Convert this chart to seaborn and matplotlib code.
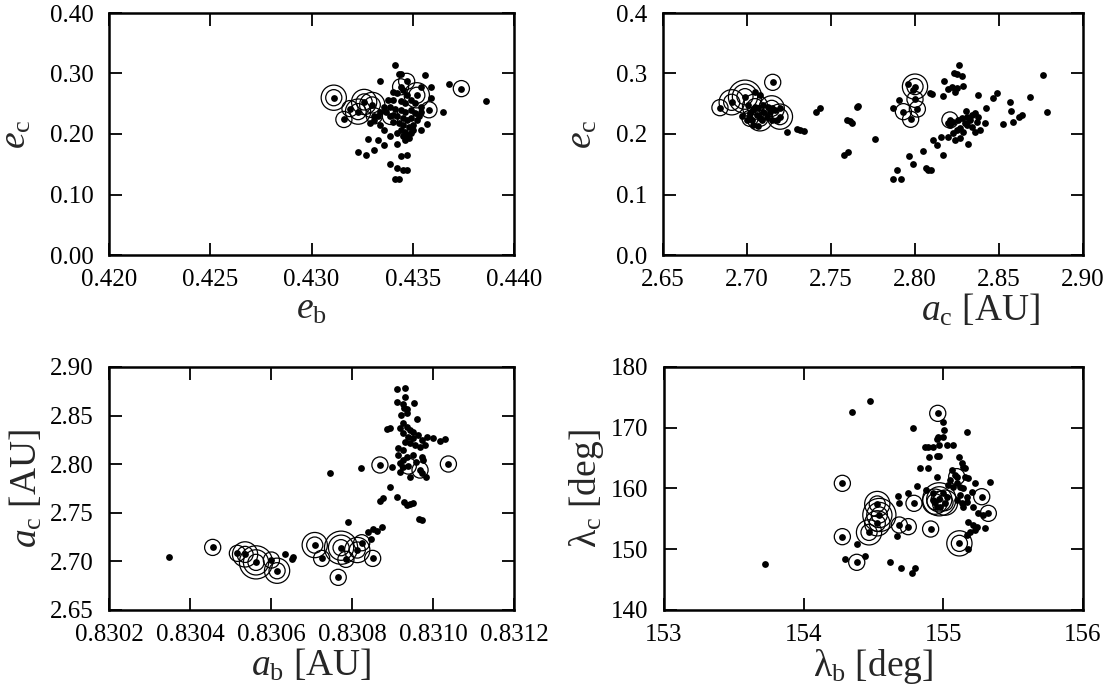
import matplotlib
matplotlib.use("Agg")
import matplotlib.pyplot as plt
import numpy as np
import pandas as pd
import seaborn as sns
from matplotlib.ticker import FormatStrFormatter, MultipleLocator

# ---------------- panel (e_b, e_c) ----------------
P1_RING_X = [0.4311, 0.4374, 0.4316, 0.4319, 0.4326, 0.4330, 0.4323, 0.4331, 0.4352,
             0.4358, 0.4347, 0.4344, 0.4339]
P1_RING_Y = [0.260, 0.275, 0.224, 0.242, 0.253, 0.248, 0.237, 0.230, 0.264,
             0.240, 0.287, 0.278, 0.229]
P1_RING_N = [2, 1, 1, 1, 2, 2, 2, 1, 2, 1, 1, 1, 1]
P1_DOT_X = [0.4341, 0.4356, 0.4334, 0.4368, 0.4386, 0.4365, 0.4328, 0.4333, 0.4336, 0.4342,
            0.4323, 0.4327, 0.4331, 0.4344, 0.4347, 0.4339, 0.4342, 0.4345, 0.4347, 0.4341,
            0.4343, 0.4354, 0.4357, 0.4339, 0.4346, 0.4348, 0.4343, 0.4344, 0.4359, 0.4359,
            0.4354, 0.4334, 0.4336, 0.4329,
            0.4340, 0.4342, 0.4345, 0.4347, 0.4340, 0.4344, 0.4346, 0.4349, 0.4351, 0.4354,
            0.4339, 0.4341, 0.4344, 0.4346, 0.4349, 0.4351, 0.4337, 0.4340, 0.4342, 0.4345,
            0.4347, 0.4349, 0.4352, 0.4340, 0.4343, 0.4345, 0.4348, 0.4350, 0.4344, 0.4346,
            0.4349, 0.4342, 0.4345, 0.4347, 0.4350, 0.4353, 0.4354, 0.4338, 0.4336, 0.4334,
            0.4331, 0.4333]
P1_DOT_Y = [0.314, 0.298, 0.288, 0.282, 0.255, 0.236, 0.192, 0.190, 0.182, 0.184,
            0.170, 0.165, 0.173, 0.164, 0.165, 0.150, 0.143, 0.141, 0.141, 0.126,
            0.126, 0.206, 0.217, 0.197, 0.190, 0.193, 0.300, 0.299, 0.278, 0.259,
            0.278, 0.215, 0.207, 0.218,
            0.270, 0.267, 0.273, 0.265, 0.256, 0.254, 0.251, 0.256, 0.251, 0.245,
            0.245, 0.242, 0.240, 0.237, 0.240, 0.234, 0.237, 0.231, 0.229, 0.226,
            0.223, 0.226, 0.223, 0.220, 0.218, 0.215, 0.212, 0.215, 0.207, 0.204,
            0.201, 0.201, 0.196, 0.198, 0.207, 0.229, 0.237, 0.256, 0.245, 0.237,
            0.223, 0.229]

# ---------------- panel (a_c, e_c) ----------------
P2_RING_X = [2.6839, 2.6909, 2.6988, 2.7153, 2.7147, 2.7077, 2.7196, 2.7018, 2.7048,
             2.8000, 2.8000, 2.8014, 2.7931, 2.7974, 2.8208]
P2_RING_Y = [0.2435, 0.2524, 0.2617, 0.2854, 0.2424, 0.2259, 0.2287, 0.2259, 0.2452,
             0.2783, 0.2573, 0.2413, 0.2369, 0.2243, 0.2232]
P2_RING_N = [1, 2, 3, 1, 2, 2, 2, 1, 2, 2, 1, 1, 1, 1, 1]
P2_DOT_X = [2.7048, 2.7077, 2.7008, 2.7038, 2.7067, 2.7097, 2.7127, 2.7018, 2.7058, 2.7087,
            2.7117, 2.7147, 2.7177, 2.7038, 2.7067, 2.6968, 2.6998, 2.7097, 2.7137, 2.7167,
            2.7196, 2.7028,
            2.7236, 2.7300, 2.7315, 2.7339, 2.7411, 2.7435, 2.7593, 2.7613, 2.7623, 2.7653,
            2.7663, 2.7762, 2.7579, 2.7599, 2.7867, 2.7907, 2.7867, 2.7917, 2.7891, 2.7990,
            2.7966, 2.7960, 2.7990, 2.8089, 2.8103, 2.8169, 2.8175, 2.8198, 2.8218, 2.8238,
            2.8248, 2.8232, 2.8252, 2.8278, 2.8264, 2.8288, 2.8109, 2.8129, 2.8153, 2.8169,
            2.8046, 2.8065, 2.8093, 2.8079,
            2.8198, 2.8228, 2.8258, 2.8278, 2.8307, 2.8337, 2.8357, 2.8377, 2.8367, 2.8417,
            2.8248, 2.8268, 2.8288, 2.8228, 2.8198, 2.8238, 2.8268, 2.8317, 2.8357, 2.8387,
            2.8327, 2.8303, 2.8377, 2.8420, 2.8462, 2.8490, 2.8565, 2.8569, 2.8581, 2.8522,
            2.8621, 2.8635, 2.8684, 2.8764, 2.8784, 2.8208, 2.8298, 2.8337, 2.8307]
P2_DOT_Y = [0.2700, 0.2645, 0.2480, 0.2397, 0.2424, 0.2369, 0.2452, 0.2342, 0.2314, 0.2232,
            0.2287, 0.2232, 0.2232, 0.2149, 0.2132, 0.2298, 0.2232, 0.2480, 0.2369, 0.2397,
            0.2424, 0.2232,
            0.2039, 0.2077, 0.2066, 0.2055, 0.2358, 0.2435, 0.2232, 0.2215, 0.2188, 0.2452,
            0.2469, 0.1918, 0.1653, 0.1697, 0.2435, 0.2562, 0.1256, 0.1256, 0.1405, 0.1499,
            0.1637, 0.2821, 0.2727, 0.2672, 0.2656, 0.2634, 0.2882, 0.2739, 0.2783, 0.2700,
            0.2755, 0.3014, 0.2987, 0.2959, 0.3135, 0.2799, 0.1901, 0.1818, 0.1956, 0.1653,
            0.1725, 0.1433, 0.1405, 0.1405,
            0.2177, 0.2204, 0.2232, 0.2259, 0.2287, 0.2314, 0.2342, 0.2287, 0.2204, 0.2177,
            0.2066, 0.2094, 0.2039, 0.2011, 0.1956, 0.1901, 0.1929, 0.1835, 0.2039, 0.2066,
            0.2232, 0.2380, 0.2645, 0.2424, 0.2590, 0.2672, 0.2535, 0.2386, 0.2193, 0.2165,
            0.2287, 0.2314, 0.2606, 0.2975, 0.2358, 0.2149, 0.2177, 0.2121, 0.2149]

# ---------------- panel (a_b, a_c) ----------------
P3_RING_X = [0.830456, 0.830517, 0.830536, 0.830563, 0.830601, 0.830615, 0.830708, 0.830725,
             0.830773, 0.830785, 0.830813, 0.830824, 0.830851, 0.830766, 0.830869, 0.831038,
             0.830939, 0.830968]
P3_RING_Y = [2.7144, 2.7083, 2.7072, 2.6990, 2.7014, 2.6904, 2.7168, 2.7031,
             2.7141, 2.7021, 2.7117, 2.7192, 2.7031, 2.6836, 2.7992, 2.8002,
             2.7981, 2.7940]
P3_RING_N = [1, 1, 2, 3, 1, 2, 2, 1, 3, 1, 2, 1, 1, 1, 1, 1, 1, 1]
P3_DOT_X = [0.830349, 0.830634, 0.830655, 0.830651, 0.830745, 0.830791, 0.830821, 0.830840,
            0.830851, 0.830861, 0.830873, 0.830848, 0.830869, 0.830877, 0.830894, 0.830910,
            0.830928, 0.830935, 0.830943, 0.830951, 0.830966, 0.830972, 0.830887, 0.830894,
            0.830898, 0.830918, 0.830926, 0.830943, 0.830959, 0.830972, 0.830982,
            0.830912, 0.830932, 0.830931, 0.830912, 0.830925, 0.830953, 0.830928, 0.830936,
            0.830922, 0.830935, 0.830961, 0.830926, 0.830918, 0.830935, 0.830943, 0.830951,
            0.830926, 0.830939, 0.830951, 0.830964, 0.830972, 0.830984, 0.830999, 0.831017,
            0.831029, 0.830931, 0.830943, 0.830955, 0.830968, 0.830980, 0.830914, 0.830926,
            0.830914, 0.830935, 0.830951, 0.830972, 0.830926, 0.830976, 0.830918]
P3_DOT_Y = [2.7041, 2.7072, 2.7041, 2.7024, 2.7906, 2.7408, 2.7957, 2.7306,
            2.7330, 2.7312, 2.7350, 2.7230, 2.7625, 2.7649, 2.7762, 2.7659,
            2.7614, 2.7580, 2.7590, 2.7604, 2.7436, 2.7426, 2.8359, 2.8369,
            2.7968, 2.7923, 2.7968, 2.7865, 2.8026, 2.7906, 2.7872,
            2.8770, 2.8787, 2.8688, 2.8636, 2.8619, 2.8633, 2.8575, 2.8564,
            2.8506, 2.8523, 2.8461, 2.8420, 2.8369, 2.8386, 2.8352, 2.8335,
            2.8317, 2.8283, 2.8266, 2.8300, 2.8249, 2.8283, 2.8273, 2.8242,
            2.8259, 2.8232, 2.8215, 2.8197, 2.8180, 2.8197, 2.8163, 2.8146,
            2.8094, 2.8077, 2.8094, 2.8077, 2.8043, 2.8043, 2.8009]

# ---------------- panel (lambda_b, lambda_c) ----------------
P4_RING_X = [154.960, 154.277, 155.275, 155.322, 154.790, 154.527, 154.542, 154.527, 154.468,
             154.685, 154.749, 154.909, 154.277, 154.380, 155.115, 154.971, 154.940, 155.012,
             155.096]
P4_RING_Y = [172.37, 160.85, 158.65, 155.91, 157.56, 157.45, 155.64, 154.27, 152.78,
             153.99, 153.72, 153.33, 152.07, 147.85, 150.97, 158.22, 157.83, 157.67,
             161.95]
P4_RING_N = [1, 1, 1, 1, 1, 2, 3, 2, 2, 1, 1, 1, 1, 1, 2, 3, 2, 2, 1]
P4_DOT_X = [154.348, 154.475, 154.785, 154.995, 155.005, 155.000, 154.964, 154.952, 155.167,
            154.869, 154.893, 154.928, 154.971, 155.024, 155.067, 154.897, 154.952, 154.971,
            154.833, 154.893, 154.952, 155.115, 155.131, 155.143, 155.155, 155.060, 155.084,
            155.048, 155.096, 155.036, 155.072, 155.119, 155.155, 155.179, 155.227, 155.334,
            155.143, 155.203, 155.119, 155.167, 155.096, 155.131, 155.143, 155.215, 155.167,
            154.814, 154.876, 154.749, 154.673, 154.685, 154.928, 154.952, 154.976, 155.000,
            155.024, 154.928, 155.251, 155.287, 155.179, 155.215, 155.239, 155.227, 155.298,
            155.167, 155.191, 155.179, 154.380, 154.296, 154.439, 154.618, 154.695, 154.797,
            154.778, 154.666, 153.723]
P4_DOT_Y = [172.54, 174.46, 170.01, 171.00, 169.63, 168.53, 168.42, 168.09, 169.36,
            166.78, 166.78, 166.78, 167.11, 167.16, 167.22, 165.24, 165.35, 165.35,
            163.32, 163.32, 161.95, 165.24, 164.14, 163.59, 163.32, 163.05, 162.22,
            161.40, 160.85, 160.58, 160.30, 160.30, 161.95, 161.67, 160.85, 161.02,
            160.03, 159.48, 158.93, 158.65, 158.11, 157.56, 157.01, 157.01, 157.83,
            160.41, 159.75, 159.31, 158.76, 157.56, 158.11, 157.01, 157.01, 159.20,
            158.65, 159.31, 155.91, 155.64, 154.54, 153.99, 153.72, 153.17, 153.44,
            152.35, 152.89, 150.04, 150.81, 148.34, 148.89, 147.95, 146.86, 146.86,
            146.03, 152.18, 147.50]

# ---------------- styling ----------------
sns.set_theme(style="ticks")
plt.rcParams["font.family"] = ["Liberation Serif", "DejaVu Serif"]
plt.rcParams["mathtext.fontset"] = "custom"
plt.rcParams["mathtext.rm"] = "Liberation Serif"
plt.rcParams["mathtext.it"] = "Liberation Serif:italic"

TICK_FS = 18
LABEL_FS = 27
RING_SIZES = {1: 135, 2: 330, 3: 570}
DOT_SIZE = 24


def draw_panel(ax, ring_x, ring_y, ring_n, dot_x, dot_y):
    rings = pd.DataFrame({"x": ring_x, "y": ring_y, "n": ring_n})
    dots = pd.DataFrame({"x": list(dot_x) + list(ring_x),
                         "y": list(dot_y) + list(ring_y)})
    for k in (3, 2, 1):
        sub = rings[rings["n"] >= k]
        if len(sub):
            sns.scatterplot(data=sub, x="x", y="y", ax=ax, s=RING_SIZES[k], marker="o",
                            facecolor="none", edgecolor="black", linewidth=0.9,
                            legend=False, zorder=2)
    sns.scatterplot(data=dots, x="x", y="y", ax=ax, s=DOT_SIZE, color="black",
                    linewidth=0, legend=False, zorder=3)


def style_axes(ax, xlim, ylim, xstep, ystep, xfmt, yfmt, xlabel, ylabel,
               ylabelpad, xlabel_x=0.5):
    ax.set_xlim(*xlim)
    ax.set_ylim(*ylim)
    ax.xaxis.set_major_locator(MultipleLocator(xstep))
    ax.yaxis.set_major_locator(MultipleLocator(ystep))
    ax.xaxis.set_major_formatter(FormatStrFormatter(xfmt))
    ax.yaxis.set_major_formatter(FormatStrFormatter(yfmt))
    ax.tick_params(direction="in", length=9, width=1.3, top=True, right=True,
                   labelsize=TICK_FS, colors="black")
    ax.tick_params(axis="x", pad=10)
    ax.tick_params(axis="y", pad=11)
    for sp in ax.spines.values():
        sp.set_visible(True)
        sp.set_linewidth(1.8)
        sp.set_color("black")
    ax.set_xlabel(xlabel, fontsize=LABEL_FS, labelpad=1)
    ax.xaxis.label.set_x(xlabel_x)
    ax.set_ylabel(ylabel, fontsize=LABEL_FS, labelpad=ylabelpad)


fig = plt.figure(figsize=(11.08, 6.90), dpi=100)
W, H = 1108, 690
ax1 = fig.add_axes([109 / W, 1 - 255 / H, 405 / W, 242 / H])
ax2 = fig.add_axes([663 / W, 1 - 255 / H, 420 / W, 242 / H])
ax3 = fig.add_axes([109 / W, 1 - 610 / H, 405 / W, 243 / H])
ax4 = fig.add_axes([664 / W, 1 - 610 / H, 419 / W, 243 / H])

draw_panel(ax1, P1_RING_X, P1_RING_Y, P1_RING_N, P1_DOT_X, P1_DOT_Y)
style_axes(ax1, (0.420, 0.440), (0.0, 0.40), 0.005, 0.1, "%.3f", "%.2f",
           r"$e_{\rm b}$", r"$e_{\rm c}$", 12)

draw_panel(ax2, P2_RING_X, P2_RING_Y, P2_RING_N, P2_DOT_X, P2_DOT_Y)
style_axes(ax2, (2.65, 2.90), (0.0, 0.4), 0.05, 0.1, "%.2f", "%.1f",
           r"$a_{\rm c}$ [AU]", r"$e_{\rm c}$", 12, xlabel_x=0.755)

draw_panel(ax3, P3_RING_X, P3_RING_Y, P3_RING_N, P3_DOT_X, P3_DOT_Y)
style_axes(ax3, (0.8302, 0.8312), (2.65, 2.90), 0.0002, 0.05, "%.4f", "%.2f",
           r"$a_{\rm b}$ [AU]", r"$a_{\rm c}$ [AU]", 4)

draw_panel(ax4, P4_RING_X, P4_RING_Y, P4_RING_N, P4_DOT_X, P4_DOT_Y)
style_axes(ax4, (153, 156), (140, 180), 1, 10, "%d", "%d",
           r"λ$_{\rm b}$ [deg]", r"λ$_{\rm c}$ [deg]", 4)

fig.savefig("out.png", dpi=100, facecolor="white")
